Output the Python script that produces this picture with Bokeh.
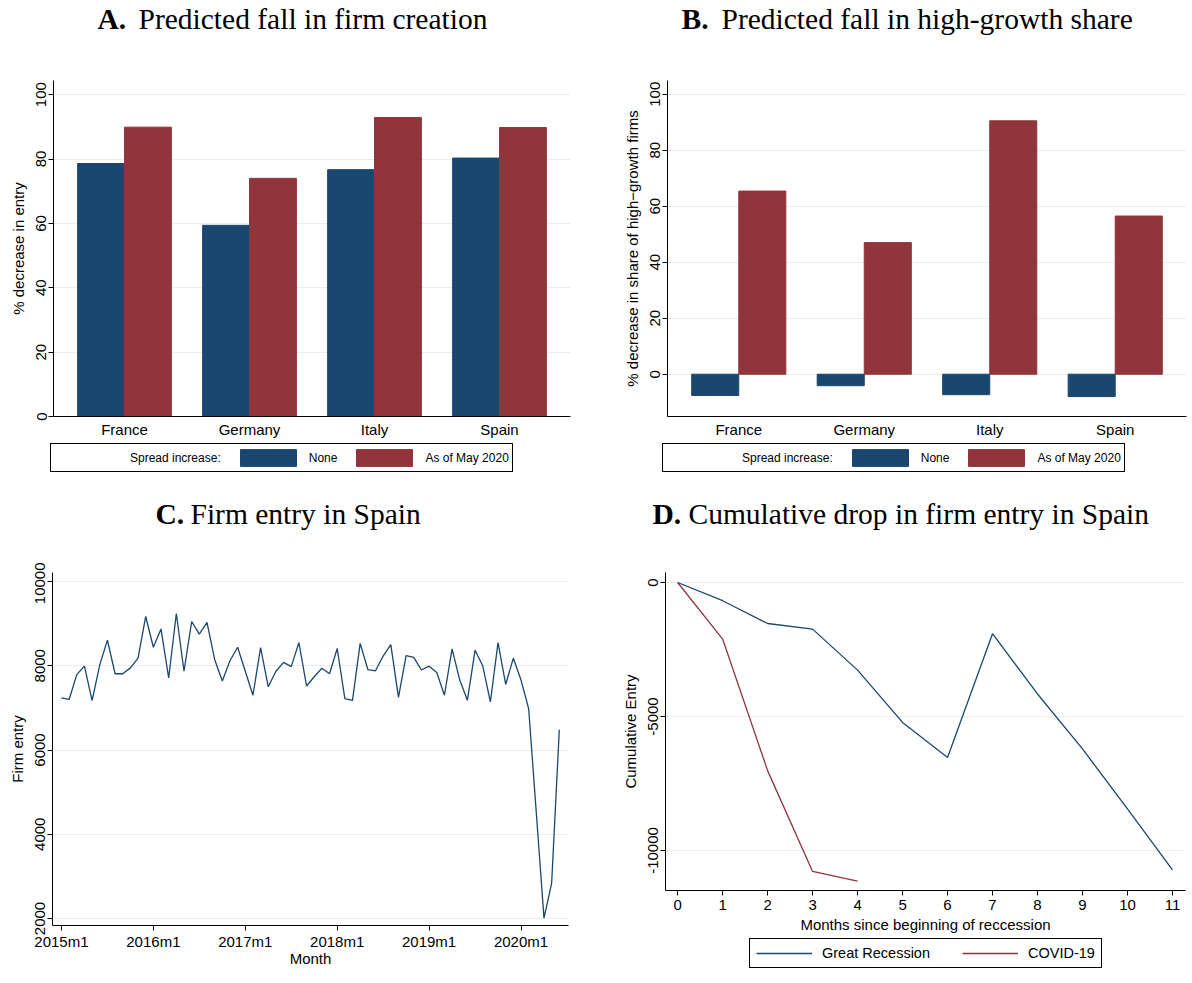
from bokeh.plotting import figure
from bokeh.models import (Range1d, FactorRange, Legend, LegendItem, Label, FixedTicker)
from bokeh.transform import dodge
from bokeh.layouts import column, row
from bokeh.embed import file_html
from bokeh.resources import INLINE

# ---------------- data ----------------
countries = ["France", "Germany", "Italy", "Spain"]
entry_none = [78.6, 59.4, 76.7, 80.3]
entry_may = [89.9, 74.0, 92.9, 89.8]
hg_none = [-7.6, -4.1, -7.3, -8.0]
hg_may = [65.4, 47.0, 90.5, 56.5]

year_tick_labels = ["2015m1", "2016m1", "2017m1", "2018m1", "2019m1", "2020m1"]
firm_entry = [
    7240, 7200, 7790, 7990, 7170, 8020, 8610, 7810, 7810, 7950, 8180, 9170,   # 2015
    8440, 8870, 7710, 9240, 7870, 9050, 8750, 9030, 8150, 7640, 8120, 8440,   # 2016
    7870, 7300, 8430, 7500, 7870, 8080, 7980, 8550, 7520, 7740, 7940, 7810,   # 2017
    8410, 7220, 7180, 8530, 7910, 7880, 8230, 8500, 7250, 8240, 8200, 7900,   # 2018
    7990, 7840, 7300, 8400, 7660, 7180, 8370, 8000, 7140, 8550, 7560, 8180,   # 2019
    7660, 6980, 4500, 2010, 2840, 6480,                                       # 2020
]

months_since = [0, 1, 2, 3, 4, 5, 6, 7, 8, 9, 10, 11]
great_recession = [0, -680, -1530, -1740, -3270, -5220, -6530, -1910, -4160, -6210, -8450, -10720]
covid_months = [0, 1, 2, 3, 4]
covid = [0, -2110, -7020, -10780, -11140]
cum_ticks = [-10000, -5000, 0]

# ---------------- style ----------------
NAVY = "#1a476f"
MAROON = "#90353b"
GRID = "#e6eef1"
SANS = "Liberation Sans"
SERIF = "Liberation Serif"
TITLE_SIZE = "29.5px"


def bare(p):
    p.outline_line_color = None
    p.background_fill_color = "white"
    p.border_fill_color = "white"
    p.xgrid.visible = False
    p.ygrid.visible = False


def style(p):
    p.outline_line_color = None
    p.background_fill_color = "white"
    p.border_fill_color = "white"
    p.xgrid.grid_line_color = None
    p.ygrid.grid_line_color = GRID
    p.ygrid.grid_line_width = 1
    for ax in p.axis:
        ax.axis_line_color = "black"
        ax.axis_line_width = 1
        ax.major_tick_line_color = "black"
        ax.major_tick_out = 5
        ax.major_tick_in = 0
        ax.minor_tick_line_color = None
        ax.major_label_text_font = SANS
        ax.major_label_text_font_size = "15px"
        ax.major_label_text_color = "black"
        ax.axis_label_text_font = SANS
        ax.axis_label_text_font_size = "15px"
        ax.axis_label_text_font_style = "normal"
        ax.axis_label_text_color = "black"
        ax.major_label_standoff = 2
        ax.axis_label_standoff = 7
    p.yaxis.major_label_orientation = "vertical"


def title_fig(height, lr, letter, rest, x1, x2, y):
    left, right = lr
    t = figure(width=596, height=height, x_range=Range1d(0, 1), y_range=Range1d(0, 1),
               x_axis_type=None, y_axis_type=None, output_backend="svg", toolbar_location=None,
               min_border=0, min_border_left=left, min_border_right=right,
               min_border_top=0, min_border_bottom=0)
    bare(t)
    t.add_layout(Label(x=x1, y=y, x_units="screen", y_units="screen", text=letter,
                       text_font=SERIF, text_font_style="bold", text_font_size=TITLE_SIZE,
                       text_baseline="middle", text_align="left", text_color="black"))
    t.add_layout(Label(x=x2, y=y, x_units="screen", y_units="screen", text=rest,
                       text_font=SERIF, text_font_style="normal", text_font_size=TITLE_SIZE,
                       text_baseline="middle", text_align="left", text_color="black"))
    return t


def add_bars(p, none_vals, may_vals):
    src = dict(country=countries, none=none_vals, may=may_vals)
    r1 = p.vbar(x=dodge("country", -0.1875, range=p.x_range), top="none", bottom=0, width=0.375,
                source=src, fill_color=NAVY, line_color=NAVY)
    r2 = p.vbar(x=dodge("country", 0.1875, range=p.x_range), top="may", bottom=0, width=0.375,
                source=src, fill_color=MAROON, line_color=MAROON)
    return r1, r2


def bar_panel(borders, none_vals, may_vals, yr, ylabel):
    left, right, top, bottom = borders
    p = figure(width=596, height=370, x_range=FactorRange(factors=countries, range_padding=0.034),
               y_range=Range1d(*yr), output_backend="svg", toolbar_location=None,
               min_border_left=left, min_border_right=right, min_border_top=top, min_border_bottom=bottom)
    add_bars(p, none_vals, may_vals)
    style(p)
    p.yaxis.ticker = FixedTicker(ticks=[0, 20, 40, 60, 80, 100])
    p.yaxis.axis_label = ylabel
    p.xaxis.major_tick_line_color = None
    p.xaxis.major_tick_out = 0
    p.xaxis.major_label_standoff = 4
    return p


def bar_legend(lr, none_vals, may_vals, loc):
    left, right = lr
    q = figure(width=596, height=50, x_range=FactorRange(factors=countries), y_range=Range1d(1000, 1001),
               x_axis_type=None, y_axis_type=None, output_backend="svg", toolbar_location=None,
               min_border=0, min_border_left=left, min_border_right=right,
               min_border_top=0, min_border_bottom=0)
    bare(q)
    r1, r2 = add_bars(q, none_vals, may_vals)
    dummy = q.scatter(x=[countries[0]], y=[0], size=0, alpha=0)
    items = [LegendItem(label="Spread increase:", renderers=[dummy]),
             LegendItem(label="None", renderers=[r1]),
             LegendItem(label="As of May 2020", renderers=[r2])]
    leg = Legend(items=items, orientation="horizontal", location=loc, padding=3, spacing=12,
                 label_standoff=6, glyph_width=70, glyph_height=21, label_height=21,
                 label_text_font=SANS, label_text_font_size="12px", label_text_color="black",
                 border_line_color="black", border_line_width=1, border_line_alpha=1.0,
                 background_fill_alpha=1.0, margin=0)
    q.add_layout(leg)
    return q


# Panel A
tA = title_fig(70, (53, 26), "A.", "Predicted fall in firm creation", 44, 85, 52)
pA = bar_panel((53, 26, 10, 24), entry_none, entry_may, (0, 104.4), "% decrease in entry")
lA = bar_legend((40, 26), entry_none, entry_may, (10, 18))

# Panel B
tB = title_fig(70, (71, 6), "B.", "Predicted fall in high-growth share", 14, 54, 52)
pB = bar_panel((71, 6, 10, 18), hg_none, hg_may, (-15.1, 104.9),
               "% decrease in share of high\u2212growth firms")
lB = bar_legend((50, 6), hg_none, hg_may, (16, 18))

# Panel C
tC = title_fig(72, (52, 28), "C.", "Firm entry in Spain", 103, 138, 49)
months = list(range(len(firm_entry)))
pC = figure(width=596, height=421, x_range=Range1d(-1.17, 66.2), y_range=Range1d(1834, 10214),
            output_backend="svg", toolbar_location=None,
            min_border_left=52, min_border_right=28, min_border_top=10, min_border_bottom=58)
pC.line(months, firm_entry, line_color=NAVY, line_width=1.3)
style(pC)
tick_pos = [12 * i for i in range(len(year_tick_labels))]
pC.xaxis.ticker = FixedTicker(ticks=tick_pos)
pC.xaxis.major_label_overrides = {t: lab for t, lab in zip(tick_pos, year_tick_labels)}
pC.yaxis.ticker = FixedTicker(ticks=[2000, 4000, 6000, 8000, 10000])
pC.xaxis.axis_label = "Month"
pC.yaxis.axis_label = "Firm entry"
pC.xaxis.axis_label_standoff = -3

# Panel D
tD = title_fig(72, (50, 7), "D.", "Cumulative drop in firm entry in Spain", 6, 42, 49)
pD = figure(width=596, height=373, x_range=Range1d(-0.27, 11.29), y_range=Range1d(-11493, 373),
            output_backend="svg", toolbar_location=None,
            min_border_left=69, min_border_right=7, min_border_top=10, min_border_bottom=45)
pD.line(months_since, great_recession, line_color=NAVY, line_width=1.3)
pD.line(covid_months, covid, line_color=MAROON, line_width=1.3)
style(pD)
pD.xaxis.ticker = FixedTicker(ticks=months_since)
pD.yaxis.ticker = FixedTicker(ticks=cum_ticks)
pD.yaxis.major_label_overrides = {t: str(t) for t in cum_ticks}
pD.xaxis.axis_label = "Months since beginning of reccession"
pD.yaxis.axis_label = "Cumulative Entry"
pD.xaxis.axis_label_standoff = 3
pD.xaxis.major_label_standoff = 4

lD = figure(width=596, height=48, x_range=Range1d(0, 1), y_range=Range1d(1e6, 1e6 + 1),
            x_axis_type=None, y_axis_type=None, output_backend="svg", toolbar_location=None,
            min_border=0, min_border_left=69, min_border_right=7, min_border_top=0, min_border_bottom=0)
bare(lD)
lg = lD.line(months_since, great_recession, line_color=NAVY, line_width=1.3)
lc = lD.line(covid_months, covid, line_color=MAROON, line_width=1.3)
legD = Legend(items=[LegendItem(label="Great Recession", renderers=[lg]),
                     LegendItem(label="COVID-19", renderers=[lc])],
              orientation="horizontal", location=(84, 15), padding=6, spacing=32, label_standoff=10,
              glyph_width=56, glyph_height=16, label_height=16, label_text_font=SANS,
              label_text_font_size="14.5px", label_text_color="black",
              border_line_color="black", border_line_width=1, border_line_alpha=1.0,
              background_fill_alpha=1.0, margin=0)
lD.add_layout(legD)

page = column(row(column(tA, pA), column(tB, pB)),
              row(lA, lB),
              row(tC, tD),
              row(pC, column(pD, lD)))
open("out.html", "w").write(file_html(page, INLINE))
